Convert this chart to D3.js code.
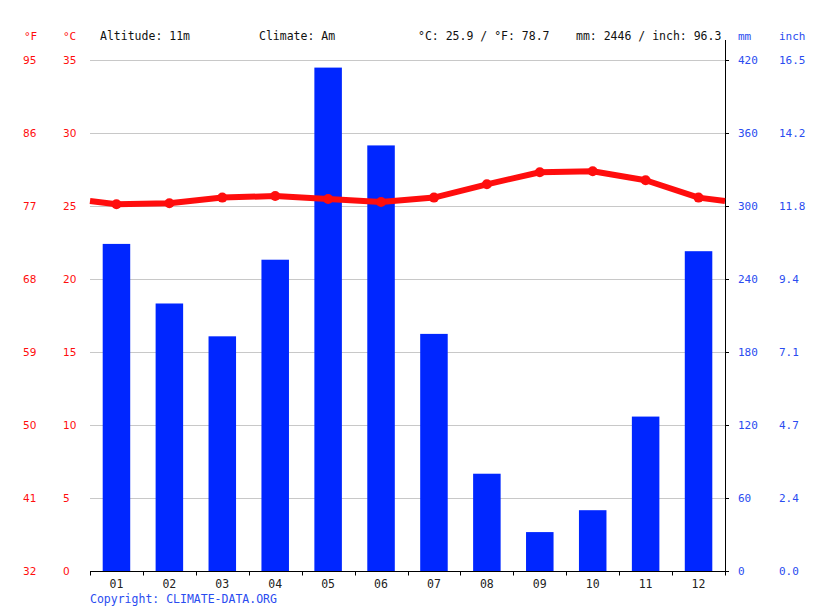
<!DOCTYPE html>
<html><head><meta charset="utf-8">
<script src="https://cdn.jsdelivr.net/npm/d3@7"></script>
<style>
html,body{margin:0;padding:0;background:#fff;}
svg{display:block;}
</style></head>
<body>
<script>
const months = ["01","02","03","04","05","06","07","08","09","10","11","12"];
const tempC = [25.13, 25.2, 25.59, 25.7, 25.5, 25.29, 25.59, 26.5, 27.33, 27.4, 26.78, 25.59];
const precipMm = [269, 220, 193, 256, 414, 350, 195, 80, 32, 50, 127, 263];
const cTicks = [0,5,10,15,20,25,30,35];
const fLabels = ["32","41","50","59","68","77","86","95"];
const mmTicks = [0,60,120,180,240,300,360,420];
const inchLabels = ["0.0","2.4","4.7","7.1","9.4","11.8","14.2","16.5"];
const header = {altitude:"Altitude: 11m", climate:"Climate: Am", temp:"°C: 25.9 / °F: 78.7", precip:"mm: 2446 / inch: 96.3"};

const W=815,H=611;
const L=90,R=725,T=60.3,B=571;
const mono="'DejaVu Sans Mono', monospace";
const red="#ff0d0d", blue="#0026ff", lblue="#2a4cf0";

const svg=d3.select("body").append("svg").attr("width",W).attr("height",H);

const x=d3.scaleBand().domain(months).range([L,R]).paddingInner(0.48).paddingOuter(0.24);
const xb=d3.scaleBand().domain(months).range([L,R]);
const yC=d3.scaleLinear().domain([0,35]).range([B,T]);
const yMm=d3.scaleLinear().domain([0,420]).range([B,T]);

// gridlines
svg.append("g").selectAll("line").data(cTicks.slice(1)).join("line")
  .attr("x1",L).attr("x2",R).attr("y1",d=>Math.round(yC(d))+0.5).attr("y2",d=>Math.round(yC(d))+0.5)
  .attr("stroke","#c8c8c8").attr("stroke-width",1);

// bars
svg.append("g").selectAll("rect").data(precipMm).join("rect")
  .attr("x",(d,i)=>x(months[i])).attr("width",x.bandwidth())
  .attr("y",d=>yMm(d)).attr("height",d=>B-yMm(d)).attr("fill",blue);

// x axis
const xAxis=svg.append("g").attr("transform",`translate(0,${B+0.5})`);
xAxis.append("line").attr("x1",L).attr("x2",R+1).attr("stroke","#000");
xAxis.selectAll("line.t").data(d3.range(13)).join("line").attr("class","t")
  .attr("x1",i=>Math.round(L+i*xb.step())+0.5).attr("x2",i=>Math.round(L+i*xb.step())+0.5)
  .attr("y1",0).attr("y2",4).attr("stroke","#000");
xAxis.selectAll("text").data(months).join("text")
  .attr("x",d=>xb(d)+xb.bandwidth()/2).attr("y",16)
  .attr("text-anchor","middle").attr("font-family",mono).attr("font-size","11.5px").attr("fill","#222").text(d=>d);

// right axis
const ra=svg.append("g");
ra.append("line").attr("x1",R+0.5).attr("x2",R+0.5).attr("y1",40).attr("y2",575).attr("stroke","#000");
ra.selectAll("line.t").data(mmTicks).join("line").attr("class","t")
  .attr("x1",R).attr("x2",R+4).attr("y1",d=>Math.round(yMm(d))+0.5).attr("y2",d=>Math.round(yMm(d))+0.5).attr("stroke","#000");
ra.selectAll("text.mm").data(mmTicks).join("text").attr("class","mm")
  .attr("x",738).attr("y",d=>yMm(d)+4).attr("font-family",mono).attr("font-size","11px").attr("fill",lblue).text(d=>d);
ra.selectAll("text.in").data(inchLabels).join("text").attr("class","in")
  .attr("x",779).attr("y",(d,i)=>yMm(mmTicks[i])+4).attr("font-family",mono).attr("font-size","11px").attr("fill",lblue).text(d=>d);

// left labels
const la=svg.append("g");
la.selectAll("text.c").data(cTicks).join("text").attr("class","c")
  .attr("x",63).attr("y",d=>yC(d)+4).attr("font-family","'DejaVu Sans', sans-serif").attr("font-size","10.5px").attr("fill",red).text(d=>d);
la.selectAll("text.f").data(fLabels).join("text").attr("class","f")
  .attr("x",23).attr("y",(d,i)=>yC(cTicks[i])+4).attr("font-family","'DejaVu Sans', sans-serif").attr("font-size","10.5px").attr("fill",red).text(d=>d);

// header
const hy=40;
const ht=(x,t,c,fs)=>svg.append("text").attr("x",x).attr("y",hy).attr("font-family",mono).attr("font-size",fs||"11.5px").attr("fill",c).text(t);
ht(24,"°F",red,"11px"); ht(63,"°C",red,"11px");
ht(100,header.altitude,"#111"); ht(259,header.climate,"#111");
ht(418,header.temp,"#111"); ht(576,header.precip,"#111");
ht(738,"mm",lblue,"11px"); ht(779,"inch",lblue,"11px");

// copyright
svg.append("text").attr("x",90).attr("y",603).attr("font-family",mono).attr("font-size","11.5px").attr("fill",lblue).text("Copyright: CLIMATE-DATA.ORG");

// temperature line, extended to plot edges with wrap-around average
const cx=i=>xb(months[i])+xb.bandwidth()/2;
const edge=(tempC[0]+tempC[11])/2;
const pts=[[L,yC(edge)]].concat(tempC.map((t,i)=>[cx(i),yC(t)])).concat([[R,yC(edge)]]);
svg.append("path").attr("d",d3.line()(pts)).attr("fill","none").attr("stroke",red).attr("stroke-width",6).attr("stroke-linejoin","round");
svg.append("g").selectAll("circle").data(tempC).join("circle")
  .attr("cx",(d,i)=>cx(i)).attr("cy",d=>yC(d)).attr("r",5).attr("fill",red);
</script>
</body></html>
